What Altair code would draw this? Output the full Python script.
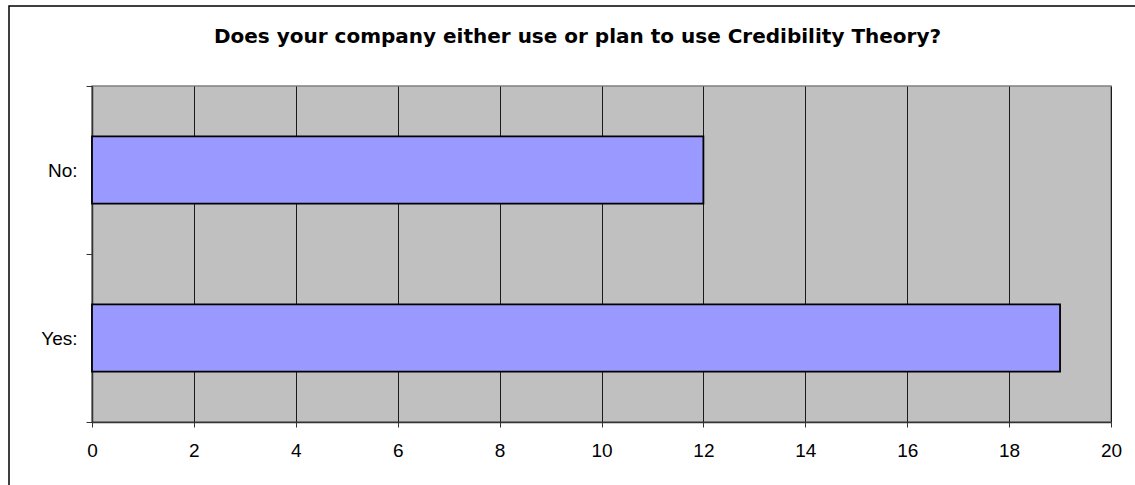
import altair as alt
import pandas as pd

categories = ["No:", "Yes:"]
counts = [12, 19]
x_ticks = [0, 2, 4, 6, 8, 10, 12, 14, 16, 18, 20]
title_text = "Does your company either use or plan to use Credibility Theory?"

df = pd.DataFrame({"answer": categories, "count": counts})

PLOT_W = 1019
PLOT_H = 336
LEFT = 92
TOP = 86

border = alt.Chart(pd.DataFrame({"a": [0]})).mark_rect(
    fill=None, stroke="black", strokeWidth=1.5, clip=False
).encode(
    x=alt.value(9 - LEFT),
    x2=alt.value(1150 - LEFT),
    y=alt.value(6 - TOP),
    y2=alt.value(500 - TOP),
)

bars = alt.Chart(df).mark_bar(
    color="#9999FF", stroke="black", strokeWidth=1.8,
    height=alt.RelativeBandSize(0.4),
).encode(
    x=alt.X(
        "count:Q",
        scale=alt.Scale(domain=[0, 20], nice=False, zero=True),
        axis=alt.Axis(
            values=x_ticks, title=None, grid=True, gridColor="#1a1a1a",
            gridWidth=1, domainColor="#333333", domainWidth=1.5,
            tickColor="#333333", tickSize=5, labelPadding=14, labelFlush=False,
            labelFont="Liberation Sans", labelFontSize=19, labelColor="black",
        ),
    ),
    y=alt.Y(
        "answer:N",
        sort=categories,
        scale=alt.Scale(paddingInner=0, paddingOuter=0),
        axis=alt.Axis(
            title=None, tickBand="extent", tickSize=6, tickColor="#333333",
            domainColor="#333333", domainWidth=1.5, labelPadding=9,
            labelFont="Liberation Sans", labelFontSize=19, labelColor="black",
        ),
    ),
)

chart = alt.layer(border, bars).properties(
    width=PLOT_W,
    height=PLOT_H,
    title=alt.TitleParams(
        text=title_text, font="DejaVu Sans", fontSize=20, fontWeight="bold",
        color="black", anchor="middle", offset=-42, dx=-24,
    ),
    autosize=alt.AutoSizeParams(type="none"),
    padding={"left": LEFT, "top": TOP, "right": 1135 - LEFT - PLOT_W, "bottom": 485 - TOP - PLOT_H},
    background="white",
).configure_view(
    fill="#C0C0C0", stroke="#808080", strokeWidth=1.5
)

chart.save("out.html", embed_options={"renderer": "svg", "actions": False})
